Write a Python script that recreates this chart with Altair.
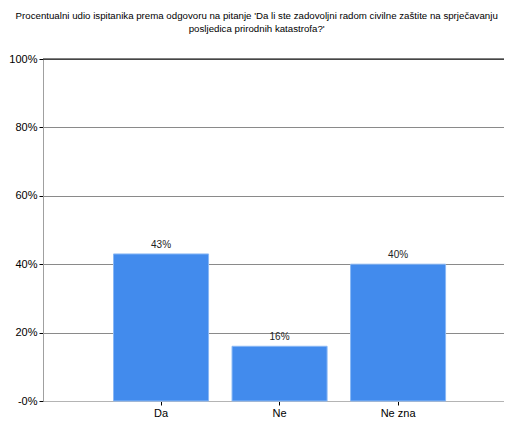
import altair as alt
import pandas as pd

categories = ["Da", "Ne", "Ne zna"]
values = [43, 16, 40]
labels = ["43%", "16%", "40%"]

df = pd.DataFrame({"cat": categories, "val": values, "lab": labels})
top_df = pd.DataFrame({"y": [100]})

FONT = "Liberation Sans"

x = alt.X("cat:N", sort=categories, title=None,
          scale=alt.Scale(paddingInner=0.198, paddingOuter=0.544, align=0.547),
          axis=alt.Axis(labelAngle=0, labelFont=FONT, labelFontSize=11, labelColor="#000000",
                        domainColor="#b4b4b4", tickColor="#000000", tickSize=4,
                        labelPadding=2, grid=False))
y = alt.Y("val:Q", title=None,
          scale=alt.Scale(domain=[0, 100], nice=False),
          axis=alt.Axis(values=[0, 20, 40, 60, 80, 100],
                        labelExpr="datum.value == 0 ? '-0%' : datum.value + '%'",
                        labelFont=FONT, labelFontSize=11, labelColor="#000000",
                        domainColor="#a0a0a0", tickColor="#000000", tickSize=4,
                        labelPadding=2, gridColor="#8a8a8a", gridWidth=1))

bars = alt.Chart(df).mark_bar(color="#428BED", stroke="#8ab8f5", strokeWidth=1).encode(x=x, y=y)
text = alt.Chart(df).mark_text(dy=-9, font=FONT, fontSize=10, color="#222222").encode(
    x=alt.X("cat:N", sort=categories), y="val:Q", text="lab:N")
toprule = alt.Chart(top_df).mark_rule(color="#000000", strokeWidth=1).encode(y="y:Q")

chart = alt.layer(bars, text, toprule).properties(
    width=461, height=342,
    title=alt.TitleParams(
        ["Procentualni udio ispitanika prema odgovoru na pitanje 'Da li ste zadovoljni radom civilne zaštite na sprječavanju",
         "posljedica prirodnih katastrofa?'"],
        font=FONT, fontSize=9.7, fontWeight="normal", color="#000000",
        anchor="middle", frame="bounds", offset=19, lineHeight=13),
    autosize=alt.AutoSizeParams(type="none"),
    padding={"left": 35, "top": 51, "right": 0, "bottom": 18},
).configure_view(stroke=None)

chart.save("out.html", embed_options={"renderer": "svg", "actions": False})
